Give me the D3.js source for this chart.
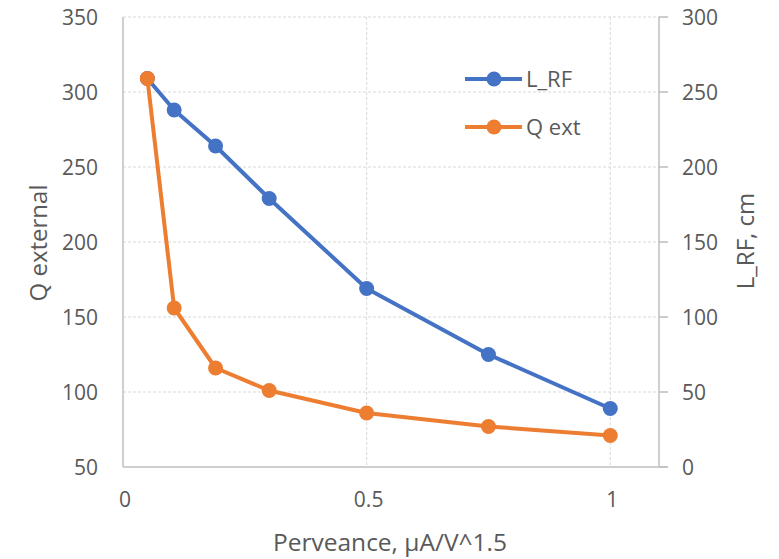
<!DOCTYPE html>
<html lang="en">
<head>
    <meta charset="UTF-8">
    <script src="https://d3js.org/d3.v7.min.js"></script>
    <title>Q external and L_RF vs Perveance</title>
    <style>
        body { margin: 0; background: #fff; }
        text { font-family: "Open Sans", sans-serif; fill: #595959; }
        .grid line { stroke: #d9d9d9; stroke-width: 1px; stroke-dasharray: 3 2; }
        .axisline { stroke: #bfbfbf; stroke-width: 1.5px; }
    </style>
</head>
<body>
    <svg id="chart" width="779" height="559"></svg>
<script>
    // data
    var perveance = [0.05, 0.105, 0.19, 0.3, 0.5, 0.75, 1.0];
    var lrf = [259, 238, 214, 179, 119, 75, 39];     // cm, right axis
    var qext = [309, 156, 116, 101, 86, 77, 71];     // left axis
    var xTicks = [0, 0.5, 1];
    var qTicks = [50, 100, 150, 200, 250, 300, 350];
    var lTicks = [0, 50, 100, 150, 200, 250, 300];

    // plot box (note: "top" is taken by window.top)
    var pLeft = 123, pRight = 659, pTop = 17, pBottom = 467;
    var svg = d3.select('#chart');

    var x = d3.scaleLinear().domain([0, 1.1]).range([pLeft, pRight]);
    var yQ = d3.scaleLinear().domain([50, 350]).range([pBottom, pTop]);
    var yL = d3.scaleLinear().domain([0, 300]).range([pBottom, pTop]);

    // horizontal gridlines (run through the right tick marks)
    svg.append('g').attr('class', 'grid')
        .selectAll('line').data(qTicks.slice(1)).join('line')
        .attr('x1', pLeft).attr('x2', pRight + 9)
        .attr('y1', d => yQ(d)).attr('y2', d => yQ(d));

    // vertical gridlines
    svg.append('g').attr('class', 'grid')
        .selectAll('line').data(xTicks.slice(1)).join('line')
        .attr('x1', d => x(d)).attr('x2', d => x(d))
        .attr('y1', pTop).attr('y2', pBottom);

    // axis lines
    svg.append('line').attr('class', 'axisline')
        .attr('x1', pLeft).attr('x2', pLeft).attr('y1', pTop).attr('y2', pBottom);
    svg.append('line').attr('class', 'axisline')
        .attr('x1', pLeft).attr('x2', pRight + 9).attr('y1', pBottom).attr('y2', pBottom);
    svg.append('line').attr('class', 'axisline')
        .attr('x1', pRight).attr('x2', pRight).attr('y1', pTop).attr('y2', pBottom);
    // right axis ticks
    svg.append('g').selectAll('line').data(lTicks).join('line')
        .attr('class', 'axisline')
        .attr('x1', pRight).attr('x2', pRight + 9)
        .attr('y1', d => yL(d)).attr('y2', d => yL(d));

    // tick labels
    svg.append('g').selectAll('text').data(qTicks).join('text')
        .attr('x', 98).attr('y', d => yQ(d)).attr('dy', '0.36em')
        .attr('text-anchor', 'end').style('font-size', '21px')
        .text(d => d);
    svg.append('g').selectAll('text').data(lTicks).join('text')
        .attr('x', 682).attr('y', d => yL(d)).attr('dy', '0.36em')
        .attr('text-anchor', 'start').style('font-size', '21px')
        .text(d => d);
    svg.append('g').selectAll('text').data(xTicks).join('text')
        .attr('x', d => x(d) + 2).attr('y', 507)
        .attr('text-anchor', 'middle').style('font-size', '21px')
        .text(d => d);

    // axis titles
    svg.append('text').text('Q external')
        .attr('transform', 'translate(47,243) rotate(-90)')
        .attr('text-anchor', 'middle').style('font-size', '24px');
    svg.append('text').text('L_RF,  cm')
        .attr('transform', 'translate(754,241) rotate(-90)')
        .attr('text-anchor', 'middle').style('font-size', '24px');
    svg.append('text').text('Perveance, µA/V^1.5')
        .attr('x', 390).attr('y', 551)
        .attr('text-anchor', 'middle').style('font-size', '24.5px');

    // series
    var series = [
        {name: 'L_RF', color: '#4472C4', vals: lrf, y: yL},
        {name: 'Q ext', color: '#ED7D31', vals: qext, y: yQ}
    ];

    series.forEach(function(s) {
        var pts = perveance.map((p, i) => [p, s.vals[i]]);
        var line = d3.line().x(d => x(d[0])).y(d => s.y(d[1]));
        var g = svg.append('g');
        g.append('path').datum(pts)
            .attr('d', line).attr('fill', 'none')
            .attr('stroke', s.color).attr('stroke-width', 4)
            .attr('stroke-linejoin', 'round');
        g.selectAll('circle').data(pts).join('circle')
            .attr('cx', d => x(d[0])).attr('cy', d => s.y(d[1]))
            .attr('r', 7.5).attr('fill', s.color);
    });

    // legend
    var leg = svg.append('g').selectAll('g').data(series).join('g')
        .attr('transform', (d, i) => 'translate(465,' + (79 + i * 48) + ')');
    leg.append('line').attr('x1', 0).attr('x2', 57).attr('y1', 0).attr('y2', 0)
        .attr('stroke', d => d.color).attr('stroke-width', 4);
    leg.append('circle').attr('cx', 29).attr('cy', 0).attr('r', 7.5)
        .attr('fill', d => d.color);
    leg.append('text').attr('x', 61).attr('y', 0).attr('dy', '0.36em')
        .style('font-size', '22px').text(d => d.name);
</script>
</body>
</html>
